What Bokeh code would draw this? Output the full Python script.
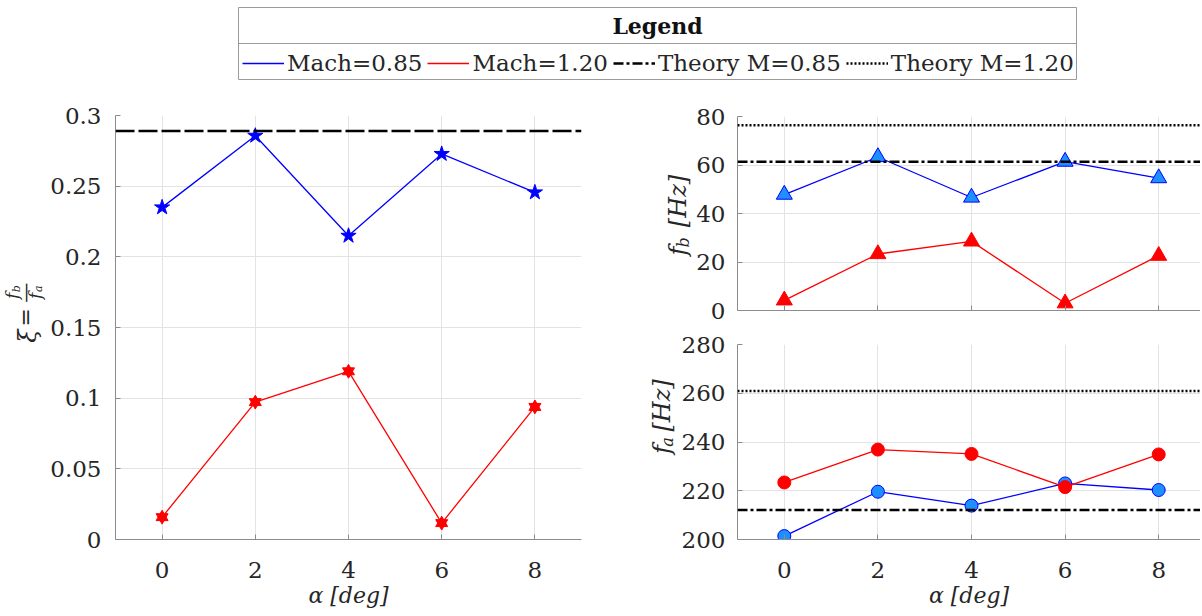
import math
import numpy as np
from bokeh.plotting import figure
from bokeh.models import (Range1d, Span, Label, Legend, LegendItem, FixedTicker,
                          CustomJSTickFormatter)
from bokeh.layouts import column, row
from bokeh.embed import file_html
from bokeh.resources import INLINE

# ---------------- data ----------------
alpha = [0, 2, 4, 6, 8]
xi_mach085 = [0.235, 0.2857, 0.2149, 0.2728, 0.2456]
xi_mach120 = [0.0158, 0.0972, 0.1190, 0.0116, 0.0938]
fb_mach085 = [47.8, 63.3, 46.6, 61.4, 54.6]
fb_mach120 = [4.2, 23.3, 28.5, 3.0, 22.6]
fa_mach085 = [201.4, 219.6, 213.9, 223.0, 220.3]
fa_mach120 = [223.4, 236.9, 235.1, 221.5, 234.9]
xi_theory_085 = 0.289
fb_theory_085 = 61.3
fb_theory_120 = 76.4
fa_theory_085 = 212.1
fa_theory_120 = 260.9

x_ticks = [0, 2, 4, 6, 8]
xi_ticks = [0, 0.05, 0.1, 0.15, 0.2, 0.25, 0.3]
fb_ticks = [0, 20, 40, 60, 80]
fa_ticks = [200, 220, 240, 260, 280]
legend_labels = ["Mach=0.85", "Mach=1.20", "Theory M=0.85", "Theory M=1.20"]

FONT = "DejaVu Serif"
TXT = "#262626"
AXC = "#8c8c8c"
GRID = "#e3e3e3"
BLUE = "#0000ff"
LBLUE = "#1e8fff"
RED = "#ff0000"
DASHDOT = "10 3 3 3"
DOT = "2 2"

fmt = CustomJSTickFormatter(code="return String(tick);")
blank = CustomJSTickFormatter(code="return '';")


def make_fig(w, h, xr, yr, bl, br, bt, bb):
    p = figure(width=w, height=h, x_range=Range1d(*xr), y_range=Range1d(*yr),
               output_backend="svg", toolbar_location=None,
               min_border_left=bl, min_border_right=br,
               min_border_top=bt, min_border_bottom=bb)
    p.outline_line_color = None
    p.background_fill_color = "white"
    p.border_fill_color = "white"
    return p


def style(p, yticks, ystandoff, xlabels=True):
    p.xaxis.ticker = FixedTicker(ticks=x_ticks)
    p.yaxis.ticker = FixedTicker(ticks=yticks)
    for ax in p.axis:
        ax.axis_line_color = AXC
        ax.axis_line_width = 1
        ax.major_tick_line_color = AXC
        ax.major_tick_in = 5
        ax.major_tick_out = 0
        ax.minor_tick_line_color = None
        ax.major_label_text_font = FONT
        ax.major_label_text_font_size = "23px"
        ax.major_label_text_color = TXT
        ax.formatter = fmt
    p.yaxis.major_label_standoff = ystandoff
    p.xaxis.major_label_standoff = 22
    if xlabels:
        p.xaxis.axis_label = "α [deg]"
        p.xaxis.axis_label_text_font = FONT
        p.xaxis.axis_label_text_font_size = "22px"
        p.xaxis.axis_label_text_font_style = "italic"
        p.xaxis.axis_label_text_color = TXT
        p.xaxis.axis_label_standoff = 2
    else:
        p.xaxis.formatter = blank
        p.xaxis.major_label_text_font_size = "1px"
        p.xaxis.major_label_standoff = 0
    p.xgrid.ticker = FixedTicker(ticks=x_ticks)
    p.ygrid.ticker = FixedTicker(ticks=yticks)
    p.xgrid.grid_line_color = GRID
    p.ygrid.grid_line_color = GRID


def label_fig(w, h):
    f = figure(width=w, height=h, x_range=Range1d(0, w), y_range=Range1d(0, h),
               x_axis_type=None, y_axis_type=None, output_backend="svg",
               toolbar_location=None, min_border=0)
    f.outline_line_color = None
    return f


def put(f, left, top, px, py, text, size, fstyle="italic"):
    # px, py: page position of the text centre
    f.add_layout(Label(x=px - left, y=top + f.height - py, text=text, angle=math.pi / 2,
                       text_align="center", text_baseline="middle",
                       text_font=FONT, text_font_size=f"{size}px",
                       text_font_style=fstyle, text_color=TXT))


# ---------------- legend panel ----------------
leg = figure(width=1200, height=80, x_range=Range1d(0, 838), y_range=Range1d(0, 73),
             x_axis_type=None, y_axis_type=None, output_backend="svg",
             toolbar_location=None, min_border_left=238, min_border_right=124,
             min_border_top=7, min_border_bottom=0)
leg.outline_line_color = "#9a9a9a"
leg.outline_line_width = 1
leg.add_layout(Span(location=37, dimension="width", line_color="#9a9a9a", line_width=1))
leg.add_layout(Label(x=419, y=55, text="Legend", text_align="center", text_baseline="middle",
                     text_font=FONT, text_font_size="22px", text_font_style="bold",
                     text_color="#111111"))
nan = np.array([np.nan])
r1 = leg.line(nan, nan, line_color=BLUE, line_width=1.3)
r2 = leg.line(nan, nan, line_color=RED, line_width=1.3)
r3 = leg.line(nan, nan, line_color="black", line_width=2.5, line_dash=DASHDOT)
r4 = leg.line(nan, nan, line_color="black", line_width=2.5, line_dash=DOT)
legend = Legend(items=[LegendItem(label=legend_labels[0], renderers=[r1]),
                       LegendItem(label=legend_labels[1], renderers=[r2]),
                       LegendItem(label=legend_labels[2], renderers=[r3]),
                       LegendItem(label=legend_labels[3], renderers=[r4])],
                orientation="horizontal", location=(4, 4), padding=0, margin=0,
                spacing=5, label_standoff=3, glyph_width=42, glyph_height=20,
                border_line_alpha=0, background_fill_alpha=0,
                label_text_font=FONT, label_text_font_size="23px",
                label_text_color=TXT)
leg.add_layout(legend)

# ---------------- left plot: xi ----------------
ll = label_fig(47, 536)
put(ll, 0, 80, 27, 359, "ξ", 24)
put(ll, 0, 80, 25, 335, "=", 22, "normal")
put(ll, 0, 80, 24, 304, "—", 20, "normal")
put(ll, 0, 80, 11, 308, "f", 17)
put(ll, 0, 80, 16, 299, "b", 11)
put(ll, 0, 80, 34, 308, "f", 17)
put(ll, 0, 80, 38, 299, "a", 11)

pl = make_fig(561, 536, (-1, 9), (0, 0.3), 66, 27, 35, 77)
style(pl, xi_ticks, 14)
pl.add_layout(Span(location=xi_theory_085, dimension="width", line_color="black",
                   line_width=2.5, line_dash="19 4"))
pl.line(alpha, xi_mach085, line_color=BLUE, line_width=1.3)
pl.scatter(alpha, xi_mach085, marker="star", size=16, fill_color=BLUE, line_color=BLUE)
pl.line(alpha, xi_mach120, line_color=RED, line_width=1.3)
pl.scatter(alpha, xi_mach120, marker="triangle", size=12, fill_color=RED, line_color=RED)
pl.scatter(alpha, xi_mach120, marker="inverted_triangle", size=12, fill_color=RED, line_color=RED)

# ---------------- right top: f_b ----------------
xr_right = (-1, -1 + 463 / 46.8)
lt = label_fig(85, 248)
put(lt, 608, 80, 677, 252, "f", 24)
put(lt, 608, 80, 683, 241, "b", 16)
put(lt, 608, 80, 677, 188, "[Hz]", 24)

pt = make_fig(507, 248, xr_right, (0, 80), 44, 0, 36, 18)
style(pt, fb_ticks, 12, xlabels=False)
pt.add_layout(Span(location=fb_theory_120, dimension="width", line_color="black",
                   line_width=2.5, line_dash=DOT))
pt.add_layout(Span(location=fb_theory_085, dimension="width", line_color="black",
                   line_width=2.5, line_dash=DASHDOT))
pt.line(alpha, fb_mach085, line_color=BLUE, line_width=1.3)
pt.scatter(alpha, fb_mach085, marker="triangle", size=16, fill_color=LBLUE, line_color=BLUE)
pt.line(alpha, fb_mach120, line_color=RED, line_width=1.3)
pt.scatter(alpha, fb_mach120, marker="triangle", size=16, fill_color=RED, line_color=RED)

# ---------------- right bottom: f_a ----------------
lb = label_fig(70, 288)
put(lb, 608, 328, 661, 483, "f", 24)
put(lb, 608, 328, 667, 472, "a", 16)
put(lb, 608, 328, 661, 418, "[Hz]", 24)

pb = make_fig(522, 288, xr_right, (200, 280), 59, 0, 16, 77)
style(pb, fa_ticks, 12)
pb.add_layout(Span(location=fa_theory_120, dimension="width", line_color="black",
                   line_width=2.5, line_dash=DOT))
pb.add_layout(Span(location=fa_theory_085, dimension="width", line_color="black",
                   line_width=2.5, line_dash=DASHDOT))
pb.line(alpha, fa_mach085, line_color=BLUE, line_width=1.3)
pb.scatter(alpha, fa_mach085, marker="circle", size=13, fill_color=LBLUE, line_color=BLUE)
pb.line(alpha, fa_mach120, line_color=RED, line_width=1.3)
pb.scatter(alpha, fa_mach120, marker="circle", size=13, fill_color=RED, line_color=RED)

layout = column(leg, row(row(ll, pl), column(row(lt, pt), row(lb, pb))))
open("out.html", "w").write(file_html(layout, INLINE))
